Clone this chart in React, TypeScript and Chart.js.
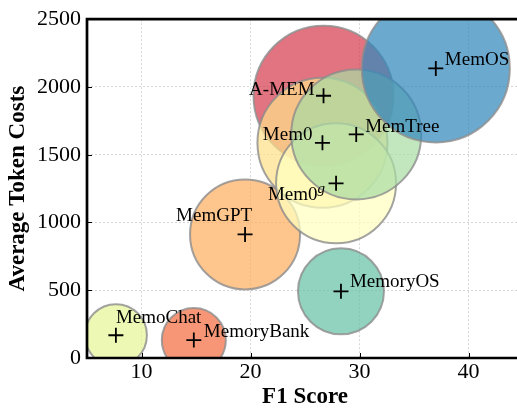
import React, { useEffect, useRef } from "react";
import { Chart, registerables } from "chart.js";
Chart.register(...registerables);

const methods = ["A-MEM", "MemoryBank", "MemGPT", "Mem0", "Mem0g", "MemoChat", "MemTree", "MemoryOS", "MemOS"];
const f1Scores = [26.7, 14.8, 19.5, 26.6, 27.85, 7.65, 29.7, 28.3, 37.0];
const tokenCosts = [1935, 132, 912, 1588, 1289, 168, 1650, 492, 2137];
const bubbleSizes = [70, 32, 55, 65, 60, 31, 65, 43, 74];
const colors = ["#d53e4f", "#f46d43", "#fdae61", "#fee08b", "#ffffbf", "#e6f598", "#abdda4", "#66c2a5", "#3288bd"];
const xTicks = [10, 20, 30, 40];
const yTicks = [0, 500, 1000, 1500, 2000, 2500];

// label placement relative to the marker: [dx, dy, align]
const labelPlacement: Record<string, [number, number, CanvasTextAlign]> = {
  "A-MEM": [-9, -6, "right"],
  MemoryBank: [10, -8, "left"],
  MemGPT: [7, -18, "right"],
  Mem0: [-10, -8, "right"],
  Mem0g: [-11, 12, "right"],
  MemoChat: [0, -17, "left"],
  MemTree: [9, -7, "left"],
  MemoryOS: [9, -9, "left"],
  MemOS: [9, -8, "left"],
};

function rgba(hex: string, a: number) {
  const n = parseInt(hex.slice(1), 16);
  return `rgba(${(n >> 16) & 255},${(n >> 8) & 255},${n & 255},${a})`;
}

const SERIF = "'Liberation Serif', 'Times New Roman', serif";

const decorPlugin = {
  id: "decor",
  afterDatasetsDraw(chart: any) {
    const ctx = chart.ctx;
    const xs = chart.scales.x;
    const ys = chart.scales.y;
    const area = chart.chartArea;
    ctx.save();
    // labels
    ctx.fillStyle = "#000";
    ctx.textBaseline = "middle";
    methods.forEach((m, i) => {
      const px = xs.getPixelForValue(f1Scores[i]);
      const py = ys.getPixelForValue(tokenCosts[i]);
      const [dx, dy, align] = labelPlacement[m];
      ctx.font = `19px ${SERIF}`;
      if (m === "Mem0g") {
        const base = "Mem0";
        const w = ctx.measureText(base).width;
        ctx.font = `italic 15px ${SERIF}`;
        const gw = ctx.measureText("g").width;
        const left = px + dx - w - gw;
        ctx.font = `19px ${SERIF}`;
        ctx.textAlign = "left";
        ctx.fillText(base, left, py + dy);
        ctx.font = `italic 15px ${SERIF}`;
        ctx.textBaseline = "alphabetic";
        ctx.fillText("g", left + w, py + dy - 2.5);
        ctx.textBaseline = "middle";
      } else {
        ctx.textAlign = align;
        ctx.fillText(m, px + dx, py + dy);
      }
    });
    // spines
    ctx.strokeStyle = "#000";
    ctx.lineWidth = 2.7;
    ctx.beginPath();
    ctx.moveTo(area.left, area.top);
    ctx.lineTo(chart.width, area.top);
    ctx.moveTo(area.left, area.top - 1.35);
    ctx.lineTo(area.left, area.bottom + 1.35);
    ctx.moveTo(area.left, area.bottom);
    ctx.lineTo(chart.width, area.bottom);
    ctx.stroke();
    // inward tick marks
    ctx.lineWidth = 1;
    ctx.beginPath();
    xTicks.forEach((v) => {
      const x = Math.round(xs.getPixelForValue(v)) + 0.5;
      ctx.moveTo(x, area.bottom);
      ctx.lineTo(x, area.bottom - 5);
    });
    yTicks.forEach((v) => {
      const y = Math.round(ys.getPixelForValue(v)) + 0.5;
      ctx.moveTo(area.left, y);
      ctx.lineTo(area.left + 5, y);
    });
    ctx.stroke();
    // axis titles
    ctx.fillStyle = "#000";
    ctx.font = `bold 23px ${SERIF}`;
    ctx.textAlign = "center";
    ctx.textBaseline = "middle";
    ctx.fillText("F1 Score", (area.left + area.right) / 2, 397);
    ctx.translate(18, (area.top + area.bottom) / 2);
    ctx.rotate(-Math.PI / 2);
    ctx.fillText("Average Token Costs", 0, 0);
    ctx.restore();
  },
};

export default function App() {
  const ref = useRef<HTMLCanvasElement>(null);
  useEffect(() => {
    document.body.style.margin = "0";
    const chart = new Chart(ref.current!, {
      type: "bubble",
      data: {
        datasets: [
          {
            label: "markers",
            data: methods.map((_, i) => ({ x: f1Scores[i], y: tokenCosts[i], r: 7.5 })),
            pointStyle: "cross",
            borderColor: "#000",
            borderWidth: 1.8,
            backgroundColor: "#000",
            clip: false as any,
          },
          {
            label: "methods",
            data: methods.map((_, i) => ({ x: f1Scores[i], y: tokenCosts[i], r: bubbleSizes[i] })),
            backgroundColor: colors.map((c) => rgba(c, 0.72)),
            borderColor: "rgba(140,140,140,0.8)",
            borderWidth: 2,
            clip: 0 as any,
          },
        ],
      },
      options: {
        animation: false,
        responsive: false,
        events: [],
        layout: { autoPadding: false, padding: { top: 15, right: 7, left: 0, bottom: 0 } },
        plugins: { legend: { display: false }, tooltip: { enabled: false } },
        scales: {
          x: {
            type: "linear",
            min: 5,
            max: 45,
            afterBuildTicks: (s: any) => {
              s.ticks = xTicks.map((v) => ({ value: v }));
            },
            afterFit: (s: any) => {
              s.height = 51;
            },
            grid: { color: "#cccccc", lineWidth: 0.8, drawTicks: false } as any,
            border: { display: false, dash: [2, 2] },
            ticks: { color: "#000", font: { family: SERIF, size: 22 }, padding: 1, maxRotation: 0, callback: (v: any) => String(v) },
          },
          y: {
            type: "linear",
            min: 0,
            max: 2500,
            afterBuildTicks: (s: any) => {
              s.ticks = yTicks.map((v) => ({ value: v }));
            },
            afterFit: (s: any) => {
              s.width = 87;
            },
            grid: { color: "#cccccc", lineWidth: 0.8, drawTicks: false } as any,
            border: { display: false, dash: [2, 2] },
            ticks: { color: "#000", font: { family: SERIF, size: 22 }, padding: 6, callback: (v: any) => String(v) },
          },
        },
      },
      plugins: [decorPlugin],
    });
    return () => chart.destroy();
  }, []);
  return (
    <div style={{ position: "absolute", left: 0, top: 0, width: 517, height: 409, overflow: "hidden", background: "#fff" }}>
      <canvas ref={ref} width={530} height={409} style={{ width: 530, height: 409 }} />
    </div>
  );
}
